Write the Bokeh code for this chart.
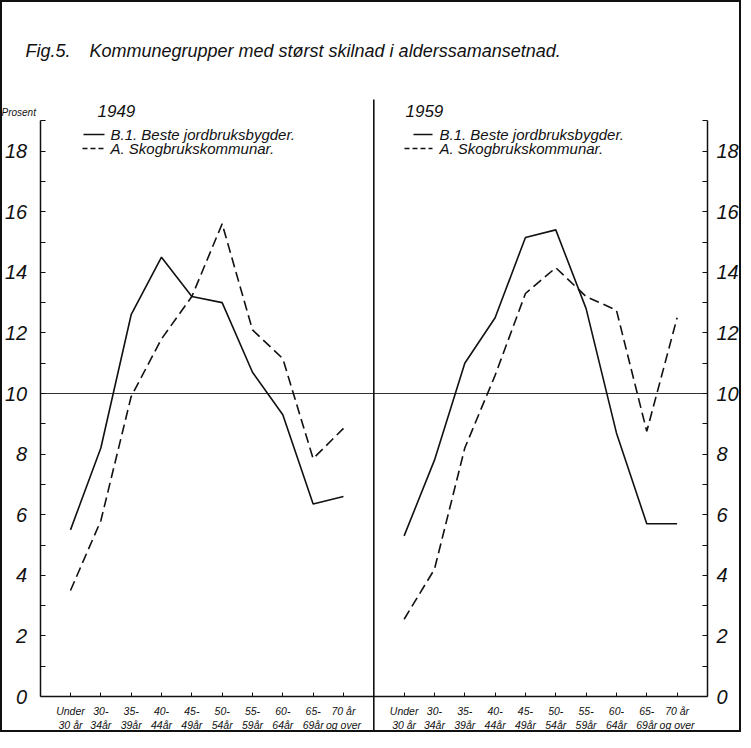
from bokeh.plotting import figure
from bokeh.models import Range1d, LinearAxis, FixedTicker, Label
from bokeh.embed import file_html
from bokeh.resources import INLINE

# ---------------- data ----------------
age_groups = ["Under\n30 år", "30-\n34år", "35-\n39år", "40-\n44år", "45-\n49år",
              "50-\n54år", "55-\n59år", "60-\n64år", "65-\n69år", "70 år\nog over"]
b1_1949 = [5.5, 8.2, 12.6, 14.5, 13.2, 13.0, 10.7, 9.3, 6.35, 6.6]
a_1949 = [3.5, 5.8, 9.9, 11.8, 13.2, 15.6, 12.1, 11.15, 7.85, 8.85]
b1_1959 = [5.3, 7.8, 11.0, 12.5, 15.15, 15.4, 12.8, 8.7, 5.7, 5.7]
a_1959 = [2.55, 4.2, 8.2, 10.6, 13.3, 14.15, 13.2, 12.75, 8.75, 12.5]
y_major = [0, 2, 4, 6, 8, 10, 12, 14, 16, 18]
y_minor = [1, 3, 5, 7, 9, 11, 13, 15, 17, 19]
y_top = 19
ref_level = 10
series_names = ["B.1. Beste jordbruksbygder.", "A. Skogbrukskommunar."]
years = ["1949", "1959"]
fig_no = "Fig.5."
title_text = "Kommunegrupper med størst skilnad i alderssamansetnad."
y_unit = "Prosent"

# ---------------- layout ----------------
FONT = "Liberation Sans"
W, H = 741, 732
CAT_PX = 30.33          # pixels per category step
Y_PX = 30.3             # pixels per percent
X0 = 70                 # pixel of first category (left panel)
Y0 = 696                # pixel of 0 %
INK = "#111111"

n = len(age_groups)
x_1949 = [i for i in range(n)]
x_1959 = [i + n + 1 for i in range(n)]
left_edge, divider, right_edge = -1, n, 2 * n + 1


def fx(px):
    return (px - X0) / CAT_PX


def fy(py):
    return (Y0 - py) / Y_PX


p = figure(width=W, height=H, output_backend="svg", toolbar_location=None,
           x_range=Range1d(fx(0), fx(W)), y_range=Range1d(fy(H), fy(0)),
           x_axis_location=None, y_axis_location=None, title_location=None,
           min_border=0, min_border_left=0, min_border_right=0,
           min_border_top=0, min_border_bottom=0)
p.grid.visible = False
p.background_fill_color = "white"
p.border_fill_color = "white"
p.outline_line_color = INK
p.outline_line_width = 3

# reference lines
p.segment(x0=[left_edge], y0=[ref_level], x1=[right_edge], y1=[ref_level],
          line_color="#333333", line_width=1)
p.segment(x0=[divider], y0=[fy(99)], x1=[divider], y1=[fy(H + 10)],
          line_color=INK, line_width=1.6)

# data lines
DASH = "10 5"
r_b49 = p.line(x_1949, b1_1949, line_color=INK, line_width=1.6)
r_a49 = p.line(x_1949, a_1949, line_color=INK, line_width=1.6, line_dash=DASH)
r_b59 = p.line(x_1959, b1_1959, line_color=INK, line_width=1.6)
r_a59 = p.line(x_1959, a_1959, line_color=INK, line_width=1.6, line_dash=DASH)


# axes
def y_axis(loc, standoff):
    return LinearAxis(fixed_location=loc, bounds=(0, y_top),
                      ticker=FixedTicker(ticks=y_major, minor_ticks=y_minor),
                      major_tick_in=5, major_tick_out=0,
                      minor_tick_in=5, minor_tick_out=0,
                      axis_line_color=INK, axis_line_width=1.5,
                      major_tick_line_color=INK, minor_tick_line_color=INK,
                      major_label_standoff=standoff,
                      major_label_text_font=FONT, major_label_text_font_style="italic",
                      major_label_text_font_size="20px", major_label_text_color=INK)


p.add_layout(y_axis(left_edge, 13), "left")
p.add_layout(y_axis(right_edge, 9), "right")

overrides = {}
for i, lab_txt in enumerate(age_groups):
    overrides[x_1949[i]] = lab_txt
    overrides[x_1959[i]] = lab_txt
xax = LinearAxis(fixed_location=0, bounds=(left_edge, right_edge),
                 ticker=FixedTicker(ticks=x_1949 + x_1959),
                 major_label_overrides=overrides,
                 major_tick_in=4, major_tick_out=0,
                 axis_line_color=INK, axis_line_width=1.5,
                 major_tick_line_color=INK,
                 major_label_standoff=8,
                 major_label_text_font=FONT, major_label_text_font_style="italic",
                 major_label_text_font_size="10.5px", major_label_text_color=INK)
p.add_layout(xax, "below")


# titles and texts (y given at the text's vertical middle)
def lab(px, py, text, size):
    p.add_layout(Label(x=fx(px), y=fy(py), text=text, text_font=FONT,
                       text_font_style="italic", text_font_size=size,
                       text_color=INK, text_baseline="middle"))


lab(25, 50, fig_no, "18px")
lab(89, 50, title_text, "18px")
lab(1, 112, y_unit, "10px")
lab(97, 110, years[0], "17px")
lab(405, 110, years[1], "17px")


# legends (sample line + text)
def legend(solid_x, dash_x, text_x):
    p.segment(x0=[fx(solid_x[0])], y0=[fy(134)], x1=[fx(solid_x[1])], y1=[fy(134)],
              line_color=INK, line_width=1.4)
    p.segment(x0=[fx(dash_x[0])], y0=[fy(148)], x1=[fx(dash_x[1])], y1=[fy(148)],
              line_color=INK, line_width=1.4, line_dash="5 3")
    lab(text_x, 134, series_names[0], "15px")
    lab(text_x, 148, series_names[1], "15px")


legend((83, 104), (82, 104), 110)
legend((413, 432), (404, 432), 439)

open("out.html", "w").write(file_html(p, INLINE))
